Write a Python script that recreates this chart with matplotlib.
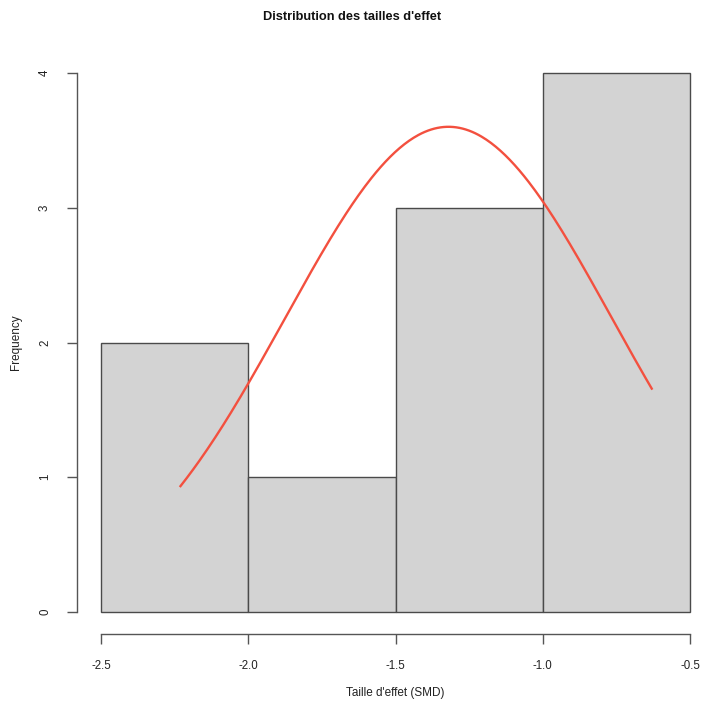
import numpy as np
import matplotlib
matplotlib.use("Agg")
import matplotlib.pyplot as plt

plt.rcParams['font.family'] = ['Liberation Sans', 'DejaVu Sans']

# Histogram data (bin edges and counts)
bin_edges = [-2.5, -2.0, -1.5, -1.0, -0.5]
counts = [2, 1, 3, 4]
# Fitted normal curve parameters (scaled to counts: n * binwidth)
fit_mean = -1.32
fit_sd = 0.554
n_obs = 10
data_min, data_max = -2.23, -0.63

x_ticks = [-2.5, -2.0, -1.5, -1.0, -0.5]
x_ticklabels = ['-2.5', '-2.0', '-1.5', '-1.0', '-0.5']
y_ticks = [0, 1, 2, 3, 4]

title = "Distribution des tailles d'effet"
xlabel = "Taille d'effet (SMD)"
ylabel = "Frequency"

W, H = 704, 706
fig = plt.figure(figsize=(W / 100, H / 100), dpi=100)
left_px, right_px = 77.4, 713.6
top_px, bot_px = 51.4, 633.6
ax = fig.add_axes([left_px / W, 1 - bot_px / H, (right_px - left_px) / W, (bot_px - top_px) / H])

edges = np.array(bin_edges)
widths = np.diff(edges)
ax.bar(edges[:-1], counts, width=widths, align='edge', color='#d3d3d3',
       edgecolor='#4a4a4a', linewidth=1.0)

binw = widths[0]
xs = np.linspace(data_min, data_max, 300)
ys = n_obs * binw * np.exp(-0.5 * ((xs - fit_mean) / fit_sd) ** 2) / (fit_sd * np.sqrt(2 * np.pi))
ax.plot(xs, ys, color='#f3503f', linewidth=1.7)

ax.set_xlim(-2.58, -0.42)
ax.set_ylim(-0.16, 4.16)
for s in ['top', 'right']:
    ax.spines[s].set_visible(False)
ax.spines['left'].set_bounds(0, 4)
ax.spines['bottom'].set_bounds(-2.5, -0.5)
for s in ['left', 'bottom']:
    ax.spines[s].set_color('#555555')
    ax.spines[s].set_linewidth(1.0)

ax.set_xticks(x_ticks)
ax.set_xticklabels(x_ticklabels)
ax.set_yticks(y_ticks)
ax.set_yticklabels([str(v) for v in y_ticks], rotation=90, va='center')
ax.tick_params(axis='both', direction='out', length=7, width=1.0, color='#555555',
               labelsize=8.3, labelcolor='#222222')
ax.tick_params(axis='x', pad=12)
ax.tick_params(axis='y', pad=12)

fig.text(0.5, 1 - 17 / H, title, ha='center', va='center', fontsize=9.2, fontweight='bold', color='#111111')
fig.text((left_px + (690 - 101) / 2 + (101 - left_px)) / W, 1 - 693 / H, xlabel, ha='center', va='center', fontsize=8.5, color='#222222')
fig.text(16 / W, 1 - 342 / H, ylabel, ha='center', va='center', rotation=90, fontsize=8.5, color='#222222')

fig.savefig('out.png', dpi=100)
